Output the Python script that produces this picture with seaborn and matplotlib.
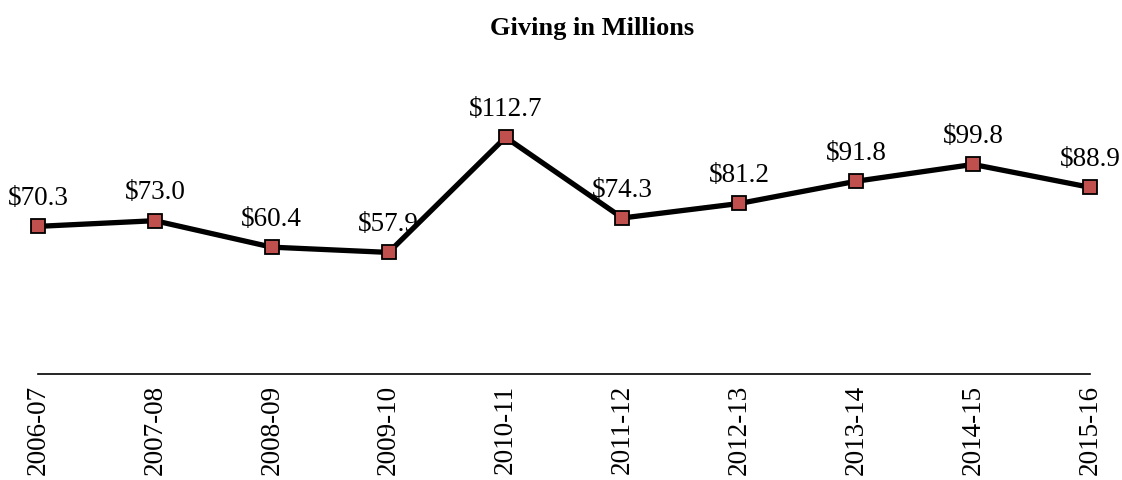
import matplotlib
matplotlib.use('Agg')
import matplotlib.pyplot as plt
import seaborn as sns
import pandas as pd

years = ['2006-07', '2007-08', '2008-09', '2009-10', '2010-11',
         '2011-12', '2012-13', '2013-14', '2014-15', '2015-16']
giving = [70.3, 73.0, 60.4, 57.9, 112.7, 74.3, 81.2, 91.8, 99.8, 88.9]

df = pd.DataFrame({'year': years, 'giving': giving})

sns.set_style('white')
plt.rcParams['font.family'] = ['Liberation Serif', 'DejaVu Serif']
plt.rcParams['text.color'] = 'black'
plt.rcParams['xtick.color'] = 'black'

fig = plt.figure(figsize = (11.22, 4.81), dpi = 100)
ax = fig.add_axes([38 / 1122, 106 / 481, 1052 / 1122, 252 / 481])

sns.lineplot(data = df, x = 'year', y = 'giving', ax = ax, color = 'black', lw = 3.8,
             marker = 's', markersize = 10, markerfacecolor = '#C0504D',
             markeredgecolor = 'black', markeredgewidth = 1.3, sort = False, clip_on = False)

for i, v in enumerate(giving):
    ax.annotate('$%.1f' % v, (i, v), xytext = (0, 16), textcoords = 'offset points',
                ha = 'center', va = 'baseline', fontsize = 19.5)

ax.set_xlim(0, len(years) - 1)
ax.set_ylim(0, 120)
ax.set_yticks([])
ax.set_xlabel(''); ax.set_ylabel('')
for s in ['left', 'right', 'top']:
    ax.spines[s].set_visible(False)
ax.spines['bottom'].set_color('black')
ax.spines['bottom'].set_linewidth(1.2)
ax.tick_params(axis = 'x', length = 0, pad = 7, labelsize = 19.5, rotation = 90)

fig.text(0.528, 1 - 29 / 481, 'Giving in Millions', ha = 'center', va = 'center',
         fontsize = 19, fontweight = 'bold')

fig.savefig('out.png', dpi = 100)
